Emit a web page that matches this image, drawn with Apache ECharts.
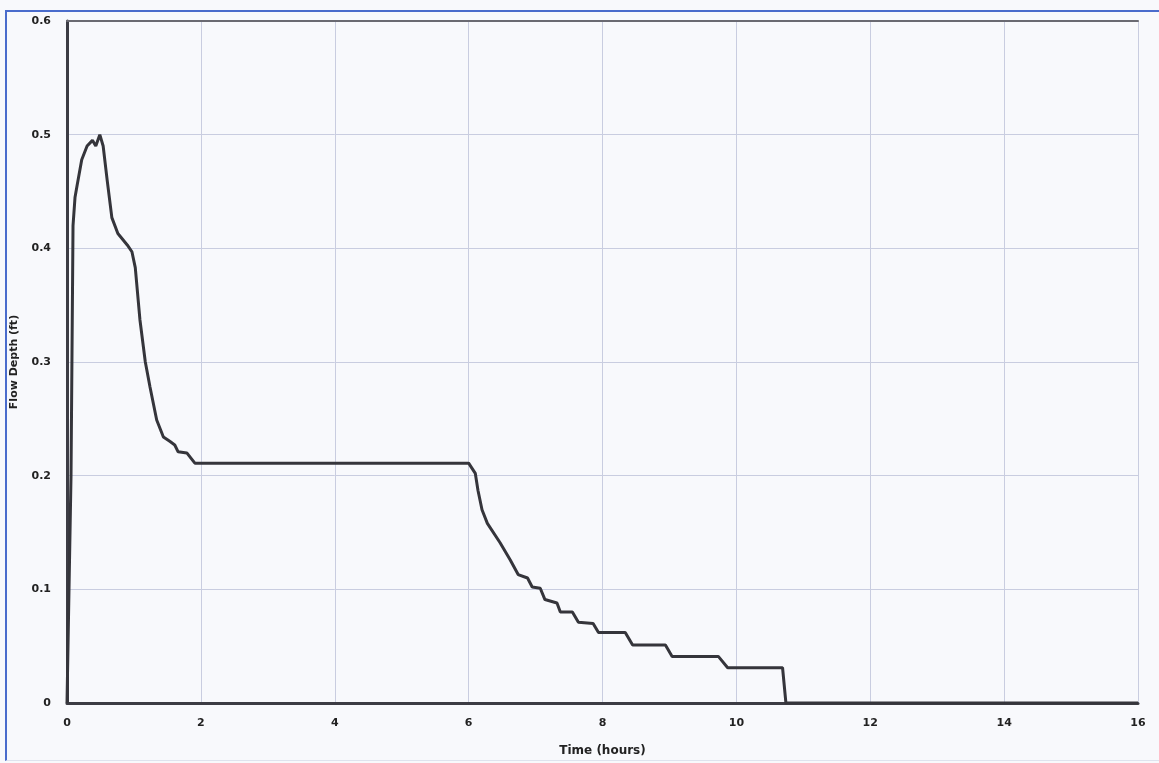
<!DOCTYPE html>
<html>
<head>
<meta charset="utf-8">
<script src="https://cdn.jsdelivr.net/npm/echarts@6/dist/echarts.min.js"></script>
<style>
html,body{margin:0;padding:0;background:#f8f9fc;}
#frame{position:absolute;left:5px;top:10px;width:1154px;height:751px;border-left:2px solid #4a6ccc;border-top:2px solid #4a6ccc;border-bottom:1px solid #dfe3ee;box-sizing:border-box;}
#chart{position:absolute;left:0;top:0;width:1159px;height:763px;}
</style>
</head>
<body>
<div id="frame"></div>
<div id="chart"></div>
<script>
const timeHours = [0, 0.06, 0.09, 0.12, 0.15, 0.22, 0.30, 0.38, 0.43, 0.49, 0.54, 0.60, 0.67, 0.76, 0.90, 0.97, 1.02, 1.09, 1.17, 1.24, 1.34, 1.44, 1.54, 1.61, 1.66, 1.79, 1.91, 2.0, 6.0, 6.1, 6.14, 6.2, 6.28, 6.47, 6.62, 6.74, 6.88, 6.95, 7.07, 7.14, 7.32, 7.37, 7.55, 7.64, 7.86, 7.94, 8.34, 8.45, 8.94, 9.04, 9.73, 9.87, 10.69, 10.74, 16];
const flowDepth = [0, 0.20, 0.42, 0.445, 0.455, 0.478, 0.49, 0.495, 0.49, 0.50, 0.49, 0.46, 0.427, 0.413, 0.403, 0.397, 0.383, 0.337, 0.30, 0.278, 0.249, 0.234, 0.23, 0.227, 0.221, 0.22, 0.211, 0.211, 0.211, 0.202, 0.187, 0.17, 0.158, 0.141, 0.126, 0.113, 0.110, 0.102, 0.101, 0.091, 0.088, 0.080, 0.080, 0.071, 0.070, 0.062, 0.062, 0.051, 0.051, 0.041, 0.041, 0.031, 0.031, 0, 0];
const xTitle = "Time (hours)";
const yTitle = "Flow Depth (ft)";

const pts = timeHours.map((t, i) => [t, flowDepth[i]]);
const chart = echarts.init(document.getElementById('chart'), null, {renderer: 'canvas'});
const labelStyle = {fontFamily: 'DejaVu Sans', fontWeight: 'bold', fontSize: 11, color: '#222'};
chart.setOption({
  backgroundColor: 'transparent',
  animation: false,
  grid: {left: 67, right: 21, top: 21, bottom: 60},
  xAxis: [{
    type: 'value', min: 0, max: 16, interval: 2,
    name: xTitle, nameLocation: 'middle', nameGap: 42,
    nameTextStyle: {fontFamily: 'DejaVu Sans', fontWeight: 'bold', fontSize: 12, color: '#222'},
    axisLine: {show: true, onZero: false, lineStyle: {color: '#3c3c44', width: 3}},
    axisTick: {show: false},
    axisLabel: Object.assign({margin: 15}, labelStyle),
    splitLine: {show: true, lineStyle: {color: '#c9cde0', width: 1}}
  }, {
    type: 'value', min: 0, max: 16, interval: 2, position: 'top',
    axisLine: {show: true, onZero: false, lineStyle: {color: '#6a6a72', width: 2}},
    axisTick: {show: false}, axisLabel: {show: false}, splitLine: {show: false}
  }],
  yAxis: {
    type: 'value', min: 0, max: 0.6, interval: 0.1,
    name: yTitle, nameLocation: 'middle', nameGap: 47, nameRotate: 90,
    nameTextStyle: {fontFamily: 'DejaVu Sans', fontWeight: 'bold', fontSize: 11, color: '#222'},
    axisLine: {show: true, lineStyle: {color: '#3c3c44', width: 3}},
    axisTick: {show: false},
    axisLabel: Object.assign({margin: 16}, labelStyle),
    splitLine: {show: true, lineStyle: {color: '#c9cde0', width: 1}}
  },
  series: [{
    type: 'line',
    data: pts,
    showSymbol: false,
    smooth: false,
    lineStyle: {color: '#35353b', width: 3},
    z: 3
  }]
});
</script>
</body>
</html>
